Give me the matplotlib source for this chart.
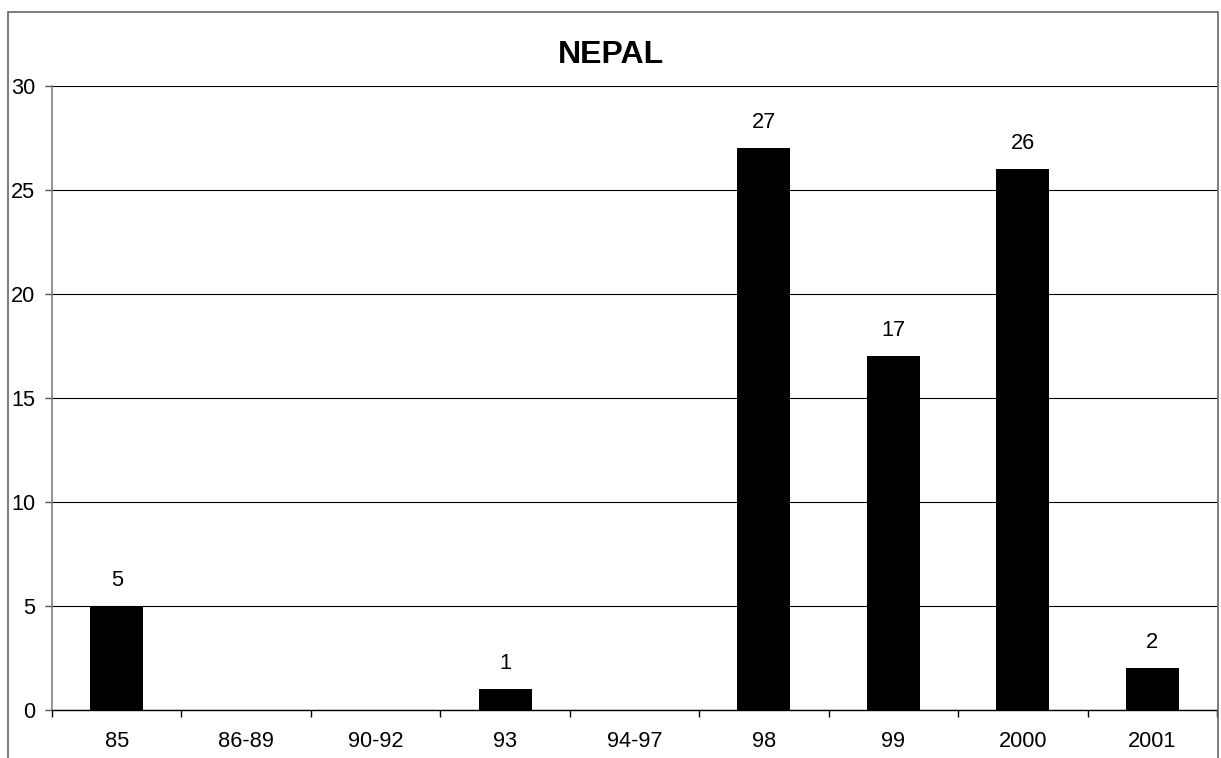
import matplotlib.pyplot as plt
from matplotlib.patches import Rectangle

plt.rcParams["font.family"] = ["Liberation Sans", "DejaVu Sans"]

categories = ["85", "86-89", "90-92", "93", "94-97", "98", "99", "2000", "2001"]
values = [5, 0, 0, 1, 0, 27, 17, 26, 2]
y_ticks = [0, 5, 10, 15, 20, 25, 30]

W, H = 1221, 758
fig = plt.figure(figsize=(W / 100, H / 100), dpi=100)
ax = fig.add_axes([52 / W, 1 - 710 / H, (1217 - 52) / W, (710 - 86) / H])

x = list(range(len(categories)))
ax.bar(x, values, width=0.41, color="black", zorder=3)

# value labels above the non-empty bars
for xi, v in zip(x, values):
    if v:
        ax.annotate(str(v), (xi, v), xytext=(0, 11), textcoords="offset points",
                    ha="center", va="bottom", fontsize=15.7)

ax.set_xlim(-0.5, len(categories) - 0.5)
ax.set_ylim(0, 30)
ax.set_yticks(y_ticks)
ax.set_yticklabels([str(t) for t in y_ticks], fontsize=15.7)
ax.set_xticks(x)
ax.set_xticklabels(categories, fontsize=15.7)
ax.set_xticks([i - 0.5 for i in range(len(categories) + 1)], minor=True)
ax.tick_params(axis="x", which="major", length=0, pad=15)
ax.tick_params(axis="x", which="minor", length=5, width=1, color="black", direction="out")
ax.tick_params(axis="y", length=5, width=1, color="#555555", pad=7)

ax.grid(axis="y", color="black", linewidth=0.8, zorder=0)
ax.set_axisbelow(True)

for s in ["top", "right"]:
    ax.spines[s].set_visible(False)
ax.spines["left"].set_color("#808080")
ax.spines["left"].set_linewidth(1.2)
ax.spines["bottom"].set_color("black")
ax.spines["bottom"].set_linewidth(1)

fig.text(611 / W, 1 - 55 / H, "NEPAL", ha="center", va="center",
         fontsize=23, fontweight="bold")

# outer chart border (open at the bottom edge of the image)
fig.patches.append(Rectangle((8 / W, -0.05), (1218 - 8) / W, 1.05 - 12 / H,
                             transform=fig.transFigure, fill=False,
                             edgecolor="#666666", linewidth=1.2))

fig.savefig("out.png", dpi=100)
